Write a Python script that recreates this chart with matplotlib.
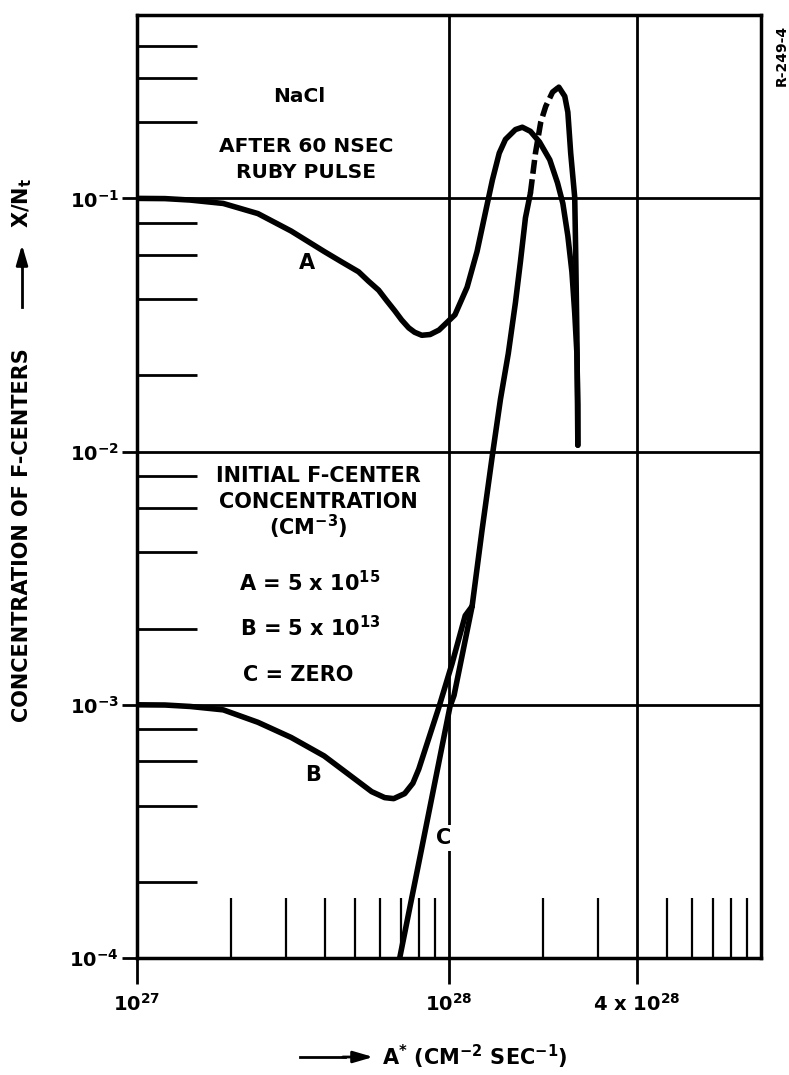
import numpy as np
import matplotlib.pyplot as plt
from matplotlib.ticker import FixedLocator, NullFormatter

# fonts: bold sans everywhere, also in the exponents
plt.rcParams['font.family'] = ['DejaVu Sans']
plt.rcParams['font.weight'] = 'bold'
plt.rcParams['mathtext.fontset'] = 'custom'
plt.rcParams['mathtext.rm'] = 'DejaVu Sans:bold'
plt.rcParams['mathtext.it'] = 'DejaVu Sans:bold'
plt.rcParams['mathtext.bf'] = 'DejaVu Sans:bold'

# curve A (initial 5e15)
a_x = [1.00e27, 1.23e27, 1.48e27, 1.89e27, 2.44e27, 3.12e27, 3.98e27, 4.52e27,
       5.13e27, 5.52e27, 5.95e27, 6.31e27, 6.70e27, 7.05e27, 7.43e27, 7.76e27,
       8.18e27, 8.70e27, 9.29e27, 1.045e28, 1.143e28,
       1.230e28, 1.306e28, 1.377e28, 1.449e28, 1.517e28, 1.633e28, 1.718e28,
       1.824e28, 1.950e28, 2.104e28, 2.228e28, 2.317e28, 2.404e28, 2.477e28,
       2.529e28, 2.570e28, 2.588e28, 2.588e28]
a_y = [0.100, 0.0998, 0.0985, 0.0955, 0.0871, 0.0743, 0.0617, 0.0562,
       0.0513, 0.0471, 0.0434, 0.0395, 0.0360, 0.0331, 0.0308, 0.0296,
       0.0288, 0.0290, 0.0302, 0.0347, 0.0446,
       0.0617, 0.0871, 0.118, 0.151, 0.171, 0.187, 0.191,
       0.184, 0.167, 0.142, 0.115, 0.0955, 0.0710, 0.0513,
       0.0353, 0.0244, 0.0153, 0.0106]

# curve B (initial 5e13), low intensity part
b_x = [1.00e27, 1.23e27, 1.48e27, 1.89e27, 2.44e27, 3.12e27, 3.98e27, 4.86e27,
       5.65e27, 6.22e27, 6.65e27, 7.21e27, 7.66e27, 8.00e27, 8.61e27, 9.29e27,
       1.023e28, 1.127e28]
b_y = [1.00e-3, 9.98e-4, 9.85e-4, 9.55e-4, 8.53e-4, 7.43e-4, 6.28e-4, 5.22e-4,
       4.54e-4, 4.30e-4, 4.26e-4, 4.46e-4, 4.90e-4, 5.57e-4, 7.36e-4, 9.82e-4,
       1.455e-3, 2.25e-3]

# curve C (zero initial), low intensity part
c_x = [6.95e27, 8.18e27, 1.007e28, 1.038e28]
c_y = [1.0e-4, 2.72e-4, 9.82e-4, 1.09e-3]

# high intensity branch shared by B and C
hi_x = [1.186e28, 1.276e28, 1.377e28, 1.462e28, 1.549e28, 1.633e28, 1.694e28,
        1.758e28, 1.824e28, 1.893e28, 1.968e28, 2.042e28, 2.148e28, 2.249e28,
        2.350e28, 2.404e28, 2.455e28, 2.529e28, 2.547e28, 2.570e28, 2.588e28]
hi_y = [2.45e-3, 4.89e-3, 9.66e-3, 0.0161, 0.0244, 0.0388, 0.0562,
        0.0838, 0.105, 0.151, 0.200, 0.231, 0.263, 0.275,
        0.253, 0.219, 0.151, 0.101, 0.0617, 0.0286, 0.0106]

W, H = 789, 1075
fig = plt.figure(figsize=(W / 100, H / 100), dpi=100)
ax = fig.add_axes([137 / W, 117 / H, (761 - 137) / W, (958 - 15) / H])
ax.set_xscale('log')
ax.set_yscale('log')
ax.set_xlim(1e27, 1e29)
ax.set_ylim(1e-4, 0.53)

# grid lines
for yv in [1e-1, 1e-2, 1e-3]:
    ax.axhline(yv, color='black', lw=2, zorder=1)
for xv in [1e28, 4e28]:
    ax.axvline(xv, color='black', lw=2, zorder=1)

kw = dict(color='black', lw=4, solid_capstyle='round', solid_joinstyle='round', zorder=3)
ax.plot(a_x, a_y, **kw)
ax.plot(b_x + hi_x[:1], b_y + hi_y[:1], **kw)
ax.plot(c_x + hi_x[:1], c_y + hi_y[:1], **kw)
ax.plot(hi_x[:9], hi_y[:9], **kw)
ax.plot(hi_x[8:14], hi_y[8:14], color='black', lw=4, ls=(0, (2.5, 1)), zorder=3)
ax.plot(hi_x[13:], hi_y[13:], **kw)

# ticks
ax.set_yticks([1e-4, 1e-3, 1e-2, 1e-1])
ax.set_yticklabels(['$10^{-4}$', '$10^{-3}$', '$10^{-2}$', '$10^{-1}$'])
ax.yaxis.set_minor_locator(FixedLocator([2e-4, 4e-4, 6e-4, 8e-4, 2e-3, 4e-3, 6e-3, 8e-3,
                                         2e-2, 4e-2, 6e-2, 8e-2, 0.2, 0.3, 0.4]))
ax.yaxis.set_minor_formatter(NullFormatter())
ax.set_xticks([1e27, 1e28, 4e28])
ax.set_xticklabels(['$10^{27}$', '$10^{28}$', '4 x $10^{28}$'])
ax.xaxis.set_minor_locator(FixedLocator([2e27, 3e27, 4e27, 5e27, 6e27, 7e27, 8e27, 9e27,
                                         2e28, 3e28, 5e28, 6e28, 7e28, 8e28, 9e28]))
ax.xaxis.set_minor_formatter(NullFormatter())
ax.tick_params(axis='y', which='major', direction='out', length=11, width=2, pad=2, labelsize=14)
ax.tick_params(axis='y', which='minor', direction='in', length=43, width=2)
ax.tick_params(axis='x', which='major', direction='out', length=19, width=2, pad=6, labelsize=14)
ax.tick_params(axis='x', which='minor', direction='in', length=43, width=1.6)
for s in ax.spines.values():
    s.set_linewidth(2.5)


def ftext(px, py, s, **k):
    k.setdefault('fontsize', 15)
    k.setdefault('ha', 'center')
    k.setdefault('va', 'center')
    return fig.text(px / W, 1 - py / H, s, fontweight='bold', **k)


ftext(299, 97, 'NaCl', fontsize=14.5)
ftext(306, 147, 'AFTER 60 NSEC', fontsize=14.5)
ftext(306, 172, 'RUBY PULSE', fontsize=14.5)
ftext(307, 263, 'A')
ftext(318, 476, 'INITIAL F-CENTER')
ftext(318, 502, 'CONCENTRATION')
ftext(308, 527, '(CM$^{-3}$)')
ftext(310, 583, 'A = 5 x 10$^{15}$')
ftext(310, 628, 'B = 5 x 10$^{13}$')
ftext(298, 675, 'C = ZERO')
ftext(313, 775, 'B')
ftext(444, 838, 'C', bbox=dict(facecolor='white', edgecolor='none', pad=2), zorder=5)

# axis titles with arrows
ftext(22, 535, 'CONCENTRATION OF F-CENTERS', rotation=90)
ftext(22, 203, 'X/N$_t$', rotation=90)
fig.add_artist(plt.Line2D([22 / W, 22 / W], [1 - 307 / H, 1 - 262 / H], color='black', lw=2))
ax.annotate('', xy=(22 / W, 1 - 242 / H), xytext=(22 / W, 1 - 270 / H),
            xycoords='figure fraction', textcoords='figure fraction',
            arrowprops=dict(arrowstyle='-|>,head_length=1.2,head_width=0.35', color='black', lw=2))

ftext(382, 1057, 'A$^{*}$ (CM$^{-2}$ SEC$^{-1}$)', ha='left')
fig.add_artist(plt.Line2D([300 / W, 345 / W], [1 - 1057 / H, 1 - 1057 / H], color='black', lw=2))
ax.annotate('', xy=(376 / W, 1 - 1057 / H), xytext=(340 / W, 1 - 1057 / H),
            xycoords='figure fraction', textcoords='figure fraction',
            arrowprops=dict(arrowstyle='-|>,head_length=1.2,head_width=0.35', color='black', lw=2))

ftext(782, 55, 'R-249-4', rotation=90, fontsize=10)

fig.savefig('out.png', dpi=100)
